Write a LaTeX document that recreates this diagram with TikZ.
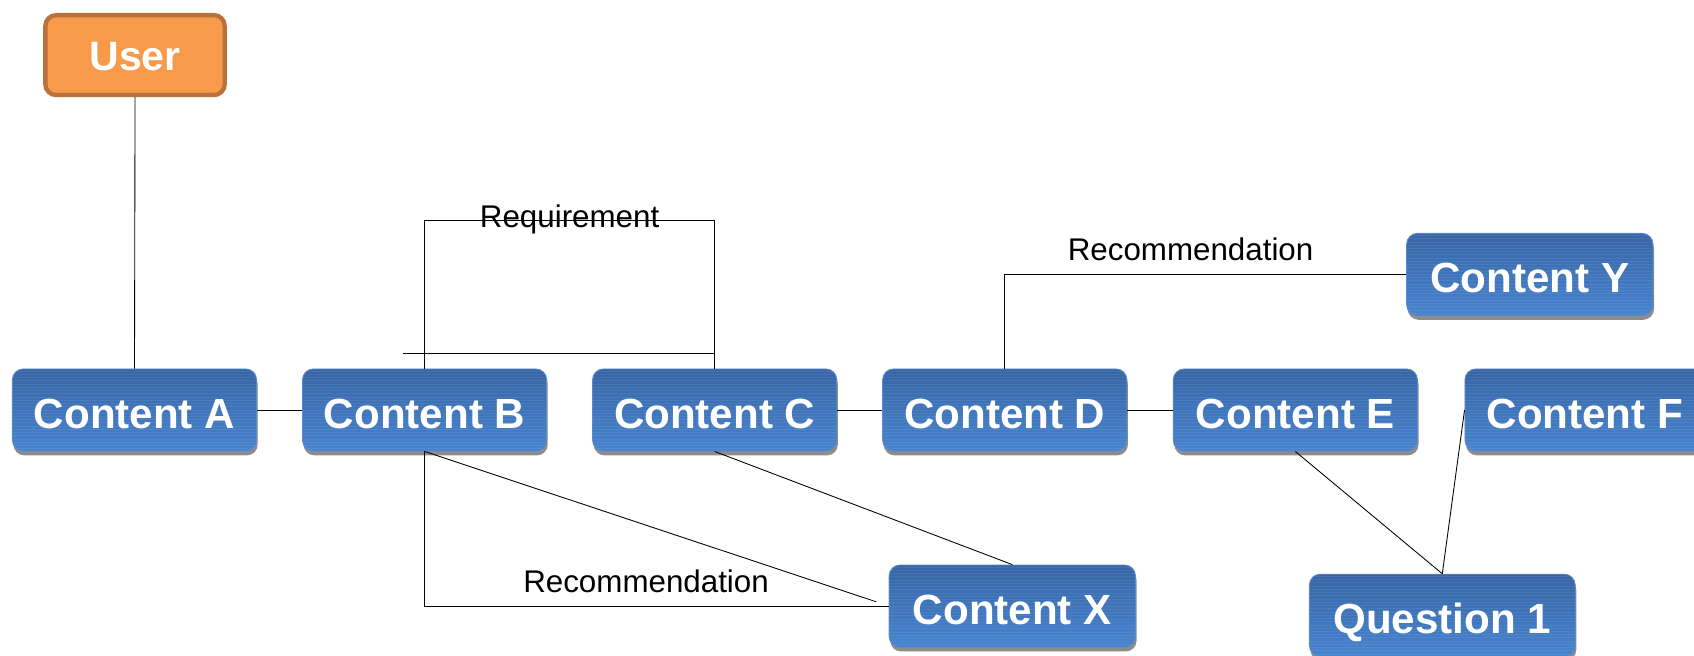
\documentclass[tikz,border=0pt]{standalone}
\usepackage{fontspec}
\setmainfont{Liberation Sans}
\usetikzlibrary{shadows,calc}
\definecolor{orFill}{HTML}{F79A4A}
\definecolor{orEdge}{HTML}{B9723A}
\definecolor{blTop}{HTML}{3765A6}
\definecolor{blBot}{HTML}{4784CE}
\definecolor{blEdge}{HTML}{5A8ACB}
\begin{document}
\begin{tikzpicture}[x=1pt,y=-1pt,
  cbox/.style={rectangle, rounded corners=10pt, minimum width=226pt, minimum height=76pt,
    inner sep=0pt, top color=blTop, bottom color=blBot, draw=blEdge, line width=0.8pt,
    text=white, font=\fontsize{39}{39}\selectfont\bfseries,
    text height=34pt, text depth=0pt,
    drop shadow={shadow xshift=1pt, shadow yshift=-4pt, fill=black!45, opacity=1},
    path picture={\foreach \i in {2,5,...,90}
      \draw[white, opacity=0.07, line width=0.9pt]
        ([yshift=-\i pt]path picture bounding box.north west) --
        ([yshift=-\i pt]path picture bounding box.north east);}},
  ubox/.style={rectangle, rounded corners=10pt, minimum width=166pt, minimum height=74pt,
    inner sep=0pt, fill=orFill, draw=orEdge, line width=4pt,
    text=white, font=\fontsize{38}{38}\selectfont\bfseries,
    text height=29pt, text depth=0pt},
  conn/.style={draw=black, line width=0.8pt},
  lbl/.style={font=\fontsize{29}{29}\selectfont, text=black, inner sep=0pt, anchor=base}
]
\useasboundingbox (0,0) rectangle (1568,607);

% nodes
\node[ubox] (user) at (125,51) {User};
\node[cbox] (A) at (124.5,379.5) {Content A};
\node[cbox] (B) at (393,379.5) {Content B};
\node[cbox] (C) at (661.5,379.5) {Content C};
\node[cbox] (D) at (930,379.5) {Content D};
\node[cbox] (E) at (1199,379.5) {Content E};
\node[cbox, minimum width=222pt] (F) at (1467,379.5) {Content F};
\node[cbox, minimum width=228pt] (Y) at (1416,254) {Content Y};
\node[cbox, minimum width=228pt] (X) at (937,561) {Content X};
\node[cbox, minimum width=246pt] (Q) at (1335,569.5) {Question 1};

% connectors
\draw[conn] (user.south) -- (A.north);
\draw[conn] (A.east) -- (B.west);
\draw[conn] (B.north) -- (B.north |- 0,204) coordinate (rq1)
  -- (rq1 -| C.north) coordinate (rq2) -- (C.north);
\node[lbl] (reqlbl) at ($(rq1)!0.5!(rq2) + (0,7)$) {Requirement};
\coordinate (s1) at (373,327);
\draw[conn] (s1) -- (s1 -| C.north);
\draw[conn] (C.east) -- (D.west);
\draw[conn] (D.east) -- (E.west);
\draw[conn] (D.north) |- (Y.west);
\node[lbl] (rec1) at (1102,241) {Recommendation};
\coordinate (xb) at (811,557);
\draw[conn] (B.south) -- (xb);
\draw[conn] (B.south) |- (X.west);
\node[lbl] (rec2) at (598,548) {Recommendation};
\draw[conn] (C.south) -- (X.north);
\draw[conn] (E.south) -- (Q.north);
\draw[conn] (F.west) -- (Q.north);
\end{tikzpicture}
\end{document}
